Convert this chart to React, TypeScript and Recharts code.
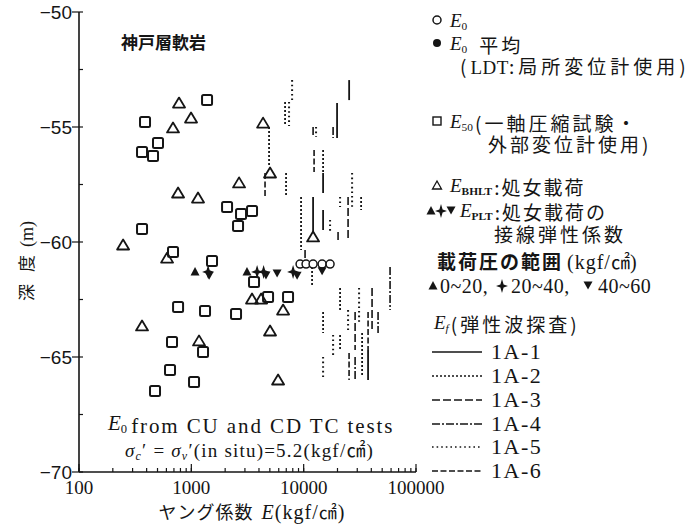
import React from "react";
import { ComposedChart, Scatter, XAxis, YAxis, ReferenceLine } from "recharts";

// Young's modulus E (kgf/cm2) against depth (m), 神戸層軟岩
const X_TICKS = [
  100, 200, 300, 400, 500, 600, 700, 800, 900,
  1000, 2000, 3000, 4000, 5000, 6000, 7000, 8000, 9000,
  10000, 20000, 30000, 40000, 50000, 60000, 70000, 80000, 90000,
  100000,
];
const Y_TICKS = [-70, -67.5, -65, -62.5, -60, -57.5, -55, -52.5, -50];
const X_DOMAIN = [100, 100000];
const Y_DOMAIN = [-70, -50];

// E0 from CU / CD triaxial tests
const E0 = [
  { e: 9290, d: -60.96 },
  { e: 10500, d: -60.96 },
  { e: 12130, d: -60.96 },
  { e: 14590, d: -60.96 },
  { e: 17180, d: -60.96 },
];

// E50, unconfined compression (external gauge)
const E50 = [
  { e: 1380, d: -53.83 },
  { e: 387, d: -54.78 },
  { e: 505, d: -55.7 },
  { e: 364, d: -56.09 },
  { e: 456, d: -56.26 },
  { e: 2080, d: -58.48 },
  { e: 2770, d: -58.78 },
  { e: 3470, d: -58.65 },
  { e: 2605, d: -59.3 },
  { e: 364, d: -59.43 },
  { e: 687, d: -60.43 },
  { e: 1528, d: -60.83 },
  { e: 3615, d: -61.74 },
  { e: 4820, d: -62.39 },
  { e: 7260, d: -62.39 },
  { e: 762, d: -62.83 },
  { e: 1324, d: -63.0 },
  { e: 2500, d: -63.13 },
  { e: 673, d: -64.35 },
  { e: 1271, d: -64.78 },
  { e: 646, d: -65.57 },
  { e: 1057, d: -66.09 },
  { e: 475, d: -66.48 },
];

// E_BHLT, borehole loading test (virgin loading)
const EBHLT = [
  { e: 777, d: -53.96 },
  { e: 994, d: -54.61 },
  { e: 687, d: -55.04 },
  { e: 4350, d: -54.83 },
  { e: 5020, d: -57.0 },
  { e: 2660, d: -57.43 },
  { e: 762, d: -57.87 },
  { e: 1147, d: -58.09 },
  { e: 12130, d: -59.78 },
  { e: 247, d: -60.13 },
  { e: 608, d: -60.7 },
  { e: 3470, d: -62.48 },
  { e: 4180, d: -62.48 },
  { e: 6560, d: -62.96 },
  { e: 364, d: -63.65 },
  { e: 5020, d: -63.87 },
  { e: 1171, d: -64.3 },
  { e: 5920, d: -66.0 },
];

// E_PLT, plate loading tangent modulus, by loading pressure range
const PLT_0_20 = [
  { e: 1079, d: -61.3 },
  { e: 3130, d: -61.3 },
];
const PLT_20_40 = [
  { e: 1410, d: -61.3 },
  { e: 3850, d: -61.3 },
  { e: 4400, d: -61.3 },
  { e: 8050, d: -61.3 },
];
const PLT_40_60 = [
  { e: 1440, d: -61.45 },
  { e: 4620, d: -61.43 },
  { e: 5800, d: -61.35 },
  { e: 8740, d: -61.45 },
  { e: 14590, d: -61.25 },
];

// E_f, seismic survey: [E, top depth, bottom depth]
const WAVE_1A1 = [
  [25400, -52.96, -53.83],
  [19830, -53.96, -55.48],
  [14890, -57.0, -57.87],
  [12130, -58.04, -59.61],
  [14890, -58.61, -59.48],
  [37440, -64.7, -66.0],
];
const WAVE_1A2 = [
  [6830, -53.91, -54.96],
  [4920, -55.0, -56.74],
  [6970, -57.0, -57.96],
  [9480, -58.04, -60.35],
  [14890, -56.0, -57.0],
  [32460, -58.04, -58.61],
  [21090, -62.0, -62.96],
  [11880, -61.09, -61.96],
  [33130, -63.96, -65.87],
  [21090, -64.04, -64.7],
  [14890, -63.04, -63.96],
];
const WAVE_1A3 = [
  [12130, -55.0, -55.48],
  [24850, -58.04, -59.91],
  [10290, -60.35, -60.96],
  [40630, -62.0, -63.83],
  [28700, -63.04, -64.7],
];
const WAVE_1A4 = [
  [18280, -55.0, -55.48],
  [20240, -59.57, -59.91],
  [58760, -61.09, -62.96],
  [45950, -63.04, -63.96],
  [28700, -65.0, -66.0],
];
const WAVE_1A5 = [
  [7890, -52.96, -53.91],
  [7410, -53.91, -54.96],
  [12890, -55.0, -55.43],
  [26980, -57.0, -58.48],
  [21090, -58.04, -58.48],
  [17180, -59.04, -59.61],
  [31130, -62.0, -63.52],
  [18280, -64.04, -64.91],
  [14890, -65.0, -66.0],
  [24850, -62.96, -63.96],
];
const WAVE_1A6 = [
  [4530, -57.0, -58.04],
  [12380, -56.0, -56.96],
  [37440, -63.04, -64.7],
  [25360, -64.83, -66.0],
];

const ink = "#151515";
const serif = "'Liberation Serif', 'DejaVu Serif', serif";
const sans = "'Liberation Sans', Arial, sans-serif";
const jp = "'Noto Sans CJK JP', 'Noto Sans', sans-serif";

const WAVE_STYLES = [
  { name: "1A-1", rows: WAVE_1A1, dash: undefined as string | undefined, w: 1.8 },
  { name: "1A-2", rows: WAVE_1A2, dash: "2 2", w: 1.8 },
  { name: "1A-3", rows: WAVE_1A3, dash: "8 3", w: 1.6 },
  { name: "1A-4", rows: WAVE_1A4, dash: "8 2 2 2", w: 1.6 },
  { name: "1A-5", rows: WAVE_1A5, dash: "1.6 3", w: 2 },
  { name: "1A-6", rows: WAVE_1A6, dash: "6 2.5", w: 1.6 },
];

const W = 691;
const H = 527;

const isDecade = (v: number) => {
  const l = Math.log10(v);
  return Math.abs(l - Math.round(l)) < 1e-9;
};

// ---- markers ----
const OpenCircle = ({ cx, cy }: any) => (
  <circle cx={cx} cy={cy} r={4} fill="#fff" stroke={ink} strokeWidth={1.5} />
);
const OpenSquare = ({ cx, cy }: any) => (
  <rect x={cx - 5} y={cy - 5} width={10} height={10} rx={1.5} fill="#fff" stroke={ink} strokeWidth={2} />
);
const OpenTriangle = ({ cx, cy }: any) => (
  <path
    d={`M${cx},${cy - 5.5} L${cx + 6},${cy + 4.5} L${cx - 6},${cy + 4.5} Z`}
    fill="none"
    stroke={ink}
    strokeWidth={1.8}
    strokeLinejoin="round"
  />
);
const UpTriangle = ({ cx, cy }: any) => (
  <path d={`M${cx},${cy - 5} L${cx + 4.5},${cy + 3.5} L${cx - 4.5},${cy + 3.5} Z`} fill={ink} />
);
const DownTriangle = ({ cx, cy }: any) => (
  <path d={`M${cx - 4.5},${cy - 3.5} L${cx + 4.5},${cy - 3.5} L${cx},${cy + 4.5} Z`} fill={ink} />
);
const Star = ({ cx, cy }: any) => (
  <path
    d={`M${cx},${cy - 7} L${cx + 1.6},${cy - 1.6} L${cx + 6},${cy} L${cx + 1.6},${cy + 1.6} L${cx},${cy + 7} L${cx - 1.6},${cy + 1.6} L${cx - 6},${cy} L${cx - 1.6},${cy - 1.6} Z`}
    fill={ink}
  />
);

// ---- axis ticks: short inward marks come from tickLine, these add labels and longer majors ----
const BottomTick = ({ x, y, payload }: any) => {
  if (!isDecade(payload.value)) return <g />;
  return (
    <g>
      <path d={`M${x},${y} V${y - 8}`} stroke={ink} strokeWidth={1.2} />
      <text x={x} y={y + 22} textAnchor="middle" fontFamily={serif} fontSize={19} fill={ink}>
        {payload.value}
      </text>
    </g>
  );
};
const TopTick = ({ x, y, payload }: any) =>
  isDecade(payload.value) ? <path d={`M${x},${y} V${y + 8}`} stroke={ink} strokeWidth={1.2} /> : <g />;
const LeftTick = ({ x, y, payload }: any) => {
  if (payload.value % 5 !== 0) return <g />;
  return (
    <g>
      <path d={`M${x - 7},${y} H${x}`} stroke={ink} strokeWidth={1.2} />
      <text x={x - 7} y={y + 7} textAnchor="end" fontFamily={sans} fontSize={19} fill={ink}>
        {"\u2212" + Math.abs(payload.value)}
      </text>
    </g>
  );
};
const RightTick = ({ x, y, payload }: any) =>
  payload.value % 5 === 0 ? <path d={`M${x},${y} H${x - 8}`} stroke={ink} strokeWidth={1.2} /> : <g />;

// E with italic body and a small subscript
const ESub = ({ sub, italicSub = false, size = 19 }: { sub: string; italicSub?: boolean; size?: number }) => (
  <>
    <tspan fontFamily={serif} fontStyle="italic" fontSize={size} letterSpacing={0}>E</tspan>
    <tspan
      fontFamily={serif}
      fontStyle={italicSub ? "italic" : "normal"}
      fontWeight={sub.length > 2 ? 700 : 400}
      fontSize={size * 0.6}
      letterSpacing={0}
      dy={3}
    >
      {sub}
    </tspan>
    <tspan dy={-3}>{""}</tspan>
  </>
);

const LEG_X = 437;
const WAVE_ROW_Y = [352, 376, 400, 424, 447, 471];

function Annotations() {
  return (
    <svg
      width={W}
      height={H}
      style={{ position: "absolute", left: 0, top: 0, pointerEvents: "none" }}
    >
      {/* in-plot notes */}
      <text x={121} y={49} fontFamily={jp} fontSize={17} fontWeight={700} fill={ink}>
        神戸層軟岩
      </text>
      <text x={108} y={430} fontFamily={serif} fontSize={21} fill={ink}>
        <ESub sub="0" size={21} />
        <tspan dx={4} letterSpacing={1.9}>from CU and CD TC tests</tspan>
      </text>
      <text x={125} y={457} fontFamily={serif} fontSize={19} letterSpacing={1.2} fill={ink}>
        <tspan fontStyle="italic">σ</tspan>
        <tspan fontSize={12} fontStyle="italic" dy={3}>c</tspan>
        <tspan dy={-3}>′ = </tspan>
        <tspan fontStyle="italic">σ</tspan>
        <tspan fontSize={12} fontStyle="italic" dy={3}>v</tspan>
        <tspan dy={-3}>′(in situ)=5.2(kgf/</tspan>
        <tspan fontFamily={jp}>㎠</tspan>
        <tspan>)</tspan>
      </text>

      {/* axis titles */}
      <text x={252} y={519} textAnchor="middle" fontFamily={jp} fontSize={18} letterSpacing={1} fill={ink}>
        ヤング係数
        <tspan dx={8} fontFamily={serif} fontStyle="italic" fontSize={20}>E</tspan>
        <tspan fontFamily={serif} fontSize={20}>(kgf/</tspan>
        <tspan>㎠</tspan>
        <tspan fontFamily={serif} fontSize={20}>)</tspan>
      </text>
      <text
        x={0}
        y={0}
        transform="translate(33 261) rotate(-90)"
        textAnchor="middle"
        fontFamily={jp}
        fontSize={17}
        fill={ink}
      >
        深<tspan dx={12}>度</tspan>
        <tspan dx={8} fontFamily={serif} fontSize={18}>(m)</tspan>
      </text>

      {/* legend */}
      <g fill={ink} fontFamily={jp} fontSize={19} letterSpacing={3}>
        <OpenCircle cx={LEG_X} cy={20} />
        <text x={450} y={27}>
          <ESub sub="0" />
        </text>

        <circle cx={LEG_X} cy={43} r={4} fill={ink} />
        <text x={450} y={50}>
          <ESub sub="0" />
          <tspan dx={12}>平均</tspan>
        </text>
        <text x={460} y={74} letterSpacing={4}>
          (<tspan fontFamily={serif} fontSize={19} letterSpacing={0.5}>LDT</tspan>:局所変位計使用)
        </text>

        <rect x={LEG_X - 4} y={117} width={8} height={8} fill="none" stroke={ink} strokeWidth={1.4} />
        <text x={450} y={128}>
          <ESub sub="50" />
          <tspan dx={2}>(一軸圧縮試験・</tspan>
        </text>
        <text x={488} y={152}>外部変位計使用)</text>

        <path d={`M${LEG_X},181 L${LEG_X + 4.5},189 L${LEG_X - 4.5},189 Z`} fill="none" stroke={ink} strokeWidth={1.3} />
        <text x={450} y={192} letterSpacing={2}>
          <ESub sub="BHLT" />
          <tspan dx={2}>:処女載荷</tspan>
        </text>

        <UpTriangle cx={431} cy={211} />
        <Star cx={441} cy={211} />
        <DownTriangle cx={451} cy={210} />
        <text x={460} y={217} letterSpacing={2}>
          <ESub sub="PLT" />
          <tspan dx={2}>:処女載荷の</tspan>
        </text>
        <text x={494} y={242}>接線弾性係数</text>

        <text x={437} y={269} fontWeight={700} letterSpacing={2}>
          載荷圧の範囲
          <tspan dx={4} fontWeight={400} fontFamily={serif} fontSize={20} letterSpacing={1}>(kgf/</tspan>
          <tspan fontWeight={400} letterSpacing={0}>㎠</tspan>
          <tspan fontWeight={400} fontFamily={serif} fontSize={20}>)</tspan>
        </text>
        <g fontFamily={serif} fontSize={20} letterSpacing={0.5}>
          <UpTriangle cx={433} cy={286} />
          <text x={440} y={293}>0~20,</text>
          <Star cx={502} cy={286} />
          <text x={511} y={293}>20~40,</text>
          <DownTriangle cx={588} cy={285} />
          <text x={598} y={293}>40~60</text>
        </g>

        <text x={434} y={329}>
          <ESub sub="f" italicSub />
          <tspan dx={2}>(弾性波探査)</tspan>
        </text>

        {WAVE_STYLES.map((s, i) => (
          <g key={s.name}>
            <line
              x1={432}
              x2={482}
              y1={WAVE_ROW_Y[i]}
              y2={WAVE_ROW_Y[i]}
              stroke={ink}
              strokeWidth={1.4}
              strokeDasharray={s.dash}
            />
            <text x={491} y={WAVE_ROW_Y[i] + 7} fontFamily={serif} fontSize={22} letterSpacing={1.5}>
              {s.name}
            </text>
          </g>
        ))}
      </g>
    </svg>
  );
}

const tickLineStyle = { stroke: ink, strokeWidth: 1.2 };
const axisLineStyle = { stroke: ink, strokeWidth: 1.6 };

export default function App() {
  return (
    <div style={{ position: "absolute", left: 0, top: 0, width: W, height: H, background: "#fff" }}>
      <ComposedChart width={W} height={H} margin={{ top: 12, right: 275, bottom: 0, left: 0 }}>
        <XAxis
          xAxisId="b"
          type="number"
          dataKey="e"
          scale="log"
          domain={X_DOMAIN}
          allowDataOverflow
          ticks={X_TICKS}
          interval={0}
          height={55}
          tickSize={-4}
          tickMargin={4}
          tickLine={tickLineStyle}
          axisLine={axisLineStyle}
          tick={<BottomTick />}
        />
        <XAxis
          xAxisId="t"
          orientation="top"
          type="number"
          dataKey="e"
          scale="log"
          domain={X_DOMAIN}
          allowDataOverflow
          ticks={X_TICKS}
          interval={0}
          height={0}
          tickSize={-4}
          tickMargin={4}
          tickLine={tickLineStyle}
          axisLine={axisLineStyle}
          tick={<TopTick />}
        />
        <YAxis
          yAxisId="l"
          type="number"
          dataKey="d"
          domain={Y_DOMAIN}
          allowDataOverflow
          ticks={Y_TICKS}
          interval={0}
          width={79}
          tickSize={-4}
          tickMargin={4}
          tickLine={tickLineStyle}
          axisLine={axisLineStyle}
          tick={<LeftTick />}
        />
        <YAxis
          yAxisId="r"
          orientation="right"
          type="number"
          dataKey="d"
          domain={Y_DOMAIN}
          allowDataOverflow
          ticks={Y_TICKS}
          interval={0}
          width={0}
          tickSize={-5}
          tickMargin={5}
          tickLine={tickLineStyle}
          axisLine={axisLineStyle}
          tick={<RightTick />}
        />

        {WAVE_STYLES.flatMap((s) =>
          s.rows.map(([e, d1, d2], i) => (
            <ReferenceLine
              key={`${s.name}-${i}`}
              xAxisId="b"
              yAxisId="l"
              segment={[
                { x: e, y: d1 },
                { x: e, y: d2 },
              ]}
              stroke={ink}
              strokeWidth={s.w}
              strokeDasharray={s.dash}
              ifOverflow="visible"
            />
          ))
        )}

        <Scatter xAxisId="b" yAxisId="l" data={E50} shape={<OpenSquare />} isAnimationActive={false} />
        <Scatter xAxisId="b" yAxisId="l" data={EBHLT} shape={<OpenTriangle />} isAnimationActive={false} />
        <Scatter xAxisId="b" yAxisId="l" data={E0} shape={<OpenCircle />} isAnimationActive={false} />
        <Scatter xAxisId="b" yAxisId="l" data={PLT_0_20} shape={<UpTriangle />} isAnimationActive={false} />
        <Scatter xAxisId="b" yAxisId="l" data={PLT_20_40} shape={<Star />} isAnimationActive={false} />
        <Scatter xAxisId="b" yAxisId="l" data={PLT_40_60} shape={<DownTriangle />} isAnimationActive={false} />
      </ComposedChart>
      <Annotations />
    </div>
  );
}
